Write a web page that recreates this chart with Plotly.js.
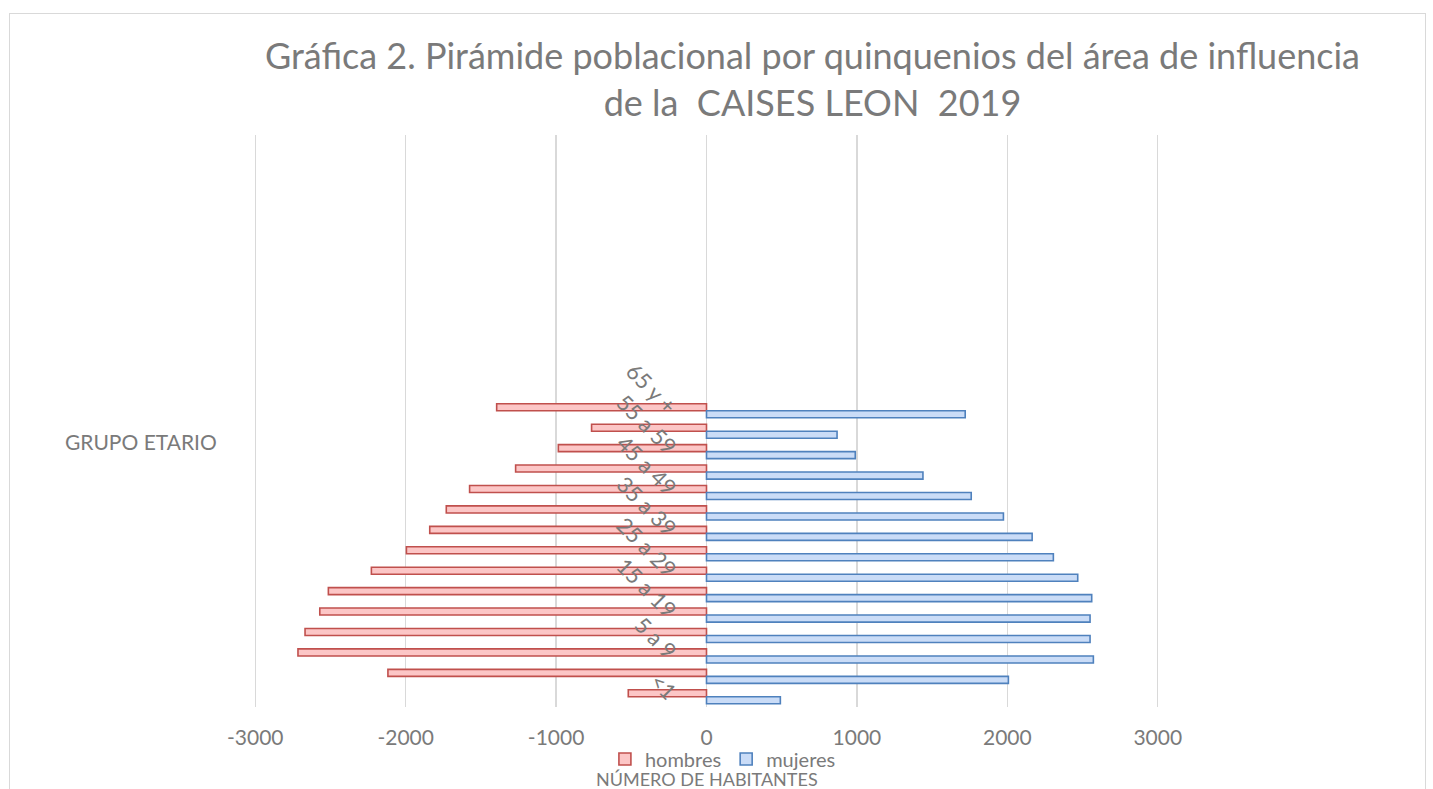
<!DOCTYPE html>
<html>
<head>
<meta charset="utf-8">
<script src="https://cdn.plot.ly/plotly-3.0.1.min.js"></script>
<style>
  body { margin: 0; background: #fff; }
  #wrap { position: relative; width: 1433px; height: 789px; overflow: hidden; }
  #chart { width: 1433px; height: 789px; }
  #frame { position: absolute; left: 9px; top: 13px; width: 1415px; height: 800px;
           border: 1.5px solid #d9d9d9; pointer-events: none; }
</style>
</head>
<body>
<div id="wrap"><div id="chart"></div><div id="frame"></div></div>
<script>
// Age groups (bottom to top)
const gruposEtarios = ["<1", "1 a 4", "5 a 9", "10 a 14", "15 a 19", "20 a 24", "25 a 29",
  "30 a 34", "35 a 39", "40 a 44", "45 a 49", "50 a 54", "55 a 59", "60 a 64", "65 y +"];
// Men (plotted as negative values)
const hombres = [-520, -2118, -2716, -2669, -2571, -2514, -2228, -1995, -1840, -1730, -1575, -1269, -985, -764, -1395];
// Women
const mujeres = [491, 2007, 2572, 2550, 2550, 2561, 2468, 2306, 2165, 1974, 1760, 1439, 989, 868, 1720];
// Shown category labels (every other group)
const etiquetasEje = ["<1", "5 a 9", "15 a 19", "25 a 29", "35 a 39", "45 a 49", "55 a 59", "65 y +"];
const xTicks = [-3000, -2000, -1000, 0, 1000, 2000, 3000];

const gray = "#7a7a7a";
const FONT = "Lato, 'Open Sans', sans-serif";
const barW = 0.343;

const traces = [
  {
    type: "bar", orientation: "h", name: "hombres",
    x: hombres, y: gruposEtarios,
    offset: 0, width: barW,
    marker: { color: "#fcc6c6", line: { color: "#c0504d", width: 1.6 } },
    hoverinfo: "x+y"
  },
  {
    type: "bar", orientation: "h", name: "mujeres",
    x: mujeres, y: gruposEtarios,
    offset: -barW, width: barW,
    marker: { color: "#cadcf7", line: { color: "#4f81bd", width: 1.6 } },
    hoverinfo: "x+y"
  }
];

const layout = {
  width: 1433, height: 789,
  paper_bgcolor: "rgba(0,0,0,0)", plot_bgcolor: "rgba(0,0,0,0)",
  margin: { l: 253, r: 273, t: 135, b: 82, autoexpand: false },
  barmode: "overlay",
  font: { family: FONT, color: gray, size: 21 },
  title: {
    text: "Gráfica 2. Pirámide poblacional por quinquenios del área de influencia<br>de la  CAISES LEON  2019",
    font: { family: FONT, size: 36, color: gray },
    x: 0.567, xanchor: "center", xref: "container",
    y: 1 - 69 / 789, yanchor: "top", yref: "container"
  },
  xaxis: {
    range: [-3015, 3015],
    tickvals: xTicks,
    ticktext: xTicks.map(String),
    showgrid: true, gridcolor: "#d9d9d9", gridwidth: 1.5,
    zeroline: true, zerolinecolor: "#d9d9d9", zerolinewidth: 1.5,
    showline: false, ticks: "",
    ticklabelstandoff: 16,
    tickfont: { family: FONT, size: 21, color: gray },
    automargin: false,
    fixedrange: true
  },
  yaxis: {
    type: "category",
    categoryorder: "array", categoryarray: gruposEtarios,
    range: [-0.5, 27.5],
    anchor: "free", position: 0.5,
    tickvals: etiquetasEje, ticktext: etiquetasEje,
    tickangle: 45,
    ticks: "", showgrid: false, showline: false, zeroline: false,
    ticklabelstandoff: 32,
    tickfont: { family: FONT, size: 22, color: gray },
    automargin: false,
    fixedrange: true
  },
  showlegend: true,
  legend: {
    orientation: "h", x: 0.388, xanchor: "left",
    yref: "container", y: (789 - 759) / 789, yanchor: "middle",
    font: { family: FONT, size: 20, color: gray },
    bgcolor: "rgba(0,0,0,0)", itemwidth: 30
  },
  annotations: [
    { text: "NÚMERO DE HABITANTES", xref: "paper", yref: "paper", x: 0.5, y: -0.1255,
      xanchor: "center", yanchor: "middle", showarrow: false,
      font: { family: FONT, size: 18, color: gray } },
    { text: "GRUPO ETARIO", xref: "paper", yref: "paper", x: -0.123, y: 0.465,
      xanchor: "center", yanchor: "middle", showarrow: false,
      font: { family: FONT, size: 21, color: gray } }
  ]
};

Plotly.newPlot("chart", traces, layout, { displayModeBar: false, staticPlot: true });
</script>
</body>
</html>
